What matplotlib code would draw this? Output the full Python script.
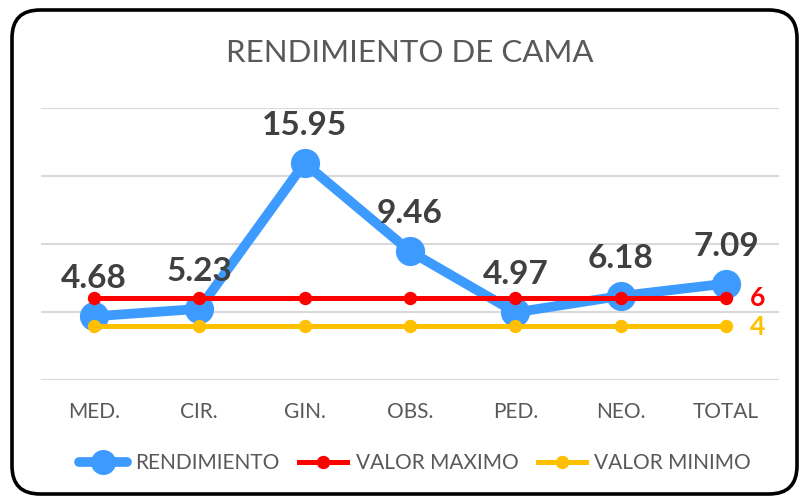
import matplotlib
matplotlib.use('Agg')
import matplotlib.pyplot as plt
from matplotlib.patches import FancyBboxPatch
from matplotlib.transforms import IdentityTransform

# datos del grafico
servicios = ['MED.', 'CIR.', 'GIN.', 'OBS.', 'PED.', 'NEO.', 'TOTAL']
rendimiento = [4.68, 5.23, 15.95, 9.46, 4.97, 6.18, 7.09]
valor_maximo = [6, 6, 6, 6, 6, 6, 6]
valor_minimo = [4, 4, 4, 4, 4, 4, 4]

plt.rcParams['font.family'] = ['Lato', 'DejaVu Sans']

W, H = 799, 497
fig = plt.figure(figsize=(W / 100, H / 100), dpi=100)
ax = fig.add_axes([41 / W, 1 - 380 / H, 738 / W, 272 / H])

x = list(range(len(servicios)))
ax.plot(x, rendimiento, color='#3D9BFF', lw=7, marker='o', ms=20,
        label='RENDIMIENTO', zorder=3, solid_capstyle='round')
ax.plot(x, valor_maximo, color='#FF0000', lw=3.6, marker='o', ms=8.6,
        label='VALOR MAXIMO', zorder=4)
ax.plot(x, valor_minimo, color='#FFC000', lw=3.6, marker='o', ms=8.6,
        label='VALOR MINIMO', zorder=4)

# etiquetas de datos
for i, v in enumerate(rendimiento):
    ax.annotate(f'{v:.2f}', (i, v), xytext=(0, 27), textcoords='offset points',
                ha='center', va='center', fontsize=24, fontweight='bold',
                color='#404040', zorder=5)
ax.annotate(f'{valor_maximo[-1]}', (x[-1], valor_maximo[-1]), xytext=(17, 0),
            textcoords='offset points', ha='left', va='center', fontsize=19,
            fontweight='bold', color='#FF0000')
ax.annotate(f'{valor_minimo[-1]}', (x[-1], valor_minimo[-1]), xytext=(17, -1),
            textcoords='offset points', ha='left', va='center', fontsize=19,
            fontweight='bold', color='#FFC000')

ax.set_xlim(-0.5, len(servicios) - 0.5)
ax.set_ylim(0, 20)
ax.set_yticks([0, 5, 10, 15, 20])
ax.set_yticklabels([])
ax.set_xticks(x)
ax.set_xticklabels(servicios, fontsize=15, color='#595959')
ax.tick_params(length=0, pad=16)
ax.grid(axis='y', color='#D9D9D9', lw=1.5, zorder=0)
ax.set_axisbelow(True)
for s in ax.spines.values():
    s.set_visible(False)

fig.text(410 / W, 1 - 53 / H, 'RENDIMIENTO DE CAMA', ha='center', va='center',
         fontsize=22.5, color='#595959')

leg = fig.legend(loc='center', bbox_to_anchor=(415 / W, 1 - 463 / H), ncol=3,
                 frameon=False, fontsize=15, handlelength=2.3, handletextpad=0.4,
                 columnspacing=0.95, labelcolor='#595959')
leg.legend_handles[0].set_markersize(17)

# marco redondeado
marco = FancyBboxPatch((12, 3), 785, 484, boxstyle='round,pad=0,rounding_size=28',
                       transform=IdentityTransform(), fill=False, lw=2.6,
                       edgecolor='black')
fig.patches.append(marco)

fig.savefig('out.png', dpi=100)
